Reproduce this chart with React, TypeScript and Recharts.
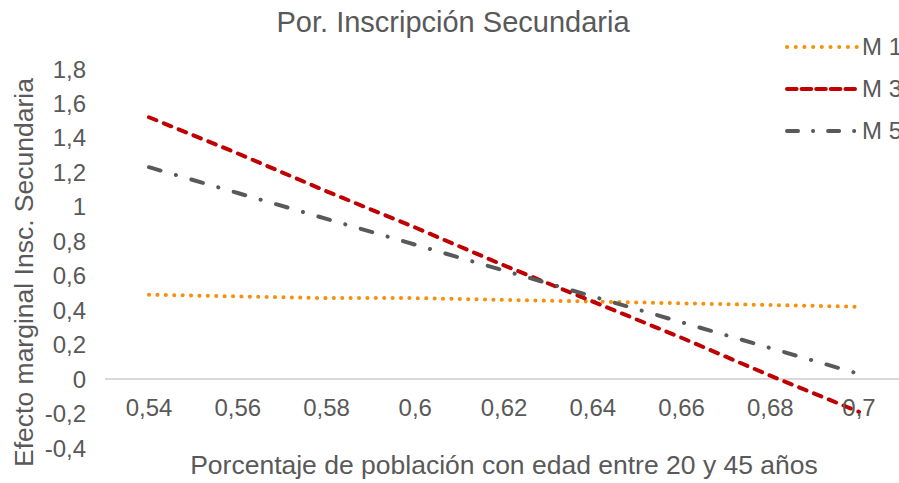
import { Label, Line, LineChart, ReferenceLine, XAxis, YAxis } from "recharts";

const categories = ["0,54", "0,56", "0,58", "0,6", "0,62", "0,64", "0,66", "0,68", "0,7"];
const m1 = [0.49, 0.48, 0.47, 0.47, 0.46, 0.45, 0.44, 0.43, 0.42];
const m3 = [1.52, 1.31, 1.09, 0.88, 0.66, 0.45, 0.24, 0.02, -0.19];
const m5 = [1.23, 1.08, 0.93, 0.78, 0.63, 0.48, 0.33, 0.18, 0.03];
const yTicks = [-0.4, -0.2, 0, 0.2, 0.4, 0.6, 0.8, 1, 1.2, 1.4, 1.6, 1.8];

const data = categories.map((x, i) => ({ x, m1: m1[i], m3: m3[i], m5: m5[i] }));

const FONT = "'Liberation Sans', Arial, sans-serif";
const TEXT = "#595959";

const series = [
  { key: "m1", name: "M 1", color: "#F7900A", dash: "0.1 8.3", width: 4 },
  { key: "m3", name: "M 3", color: "#C00000", dash: "8 8", width: 4 },
  { key: "m5", name: "M 5", color: "#595959", dash: "12 16 0.1 16", width: 4 },
];

const legendDash: Record<string, string> = {
  m1: "0.1 8.6",
  m3: "9.6 5",
  m5: "11 15 0.1 15",
};

function XTick({ x, y, payload }: any) {
  return (
    <text x={x} y={y} dy={-32.5} textAnchor="middle" fill={TEXT} fontSize={24} fontFamily={FONT}>
      {payload.value}
    </text>
  );
}

// legend sits outside the plot (it is clipped at the right edge like the original)
function LegendBox() {
  return (
    <div style={{ position: "absolute", top: 26, left: 785, width: 140, fontFamily: FONT }}>
      {series.map((s) => (
        <div key={s.key} style={{ display: "flex", alignItems: "center", height: 42 }}>
          <svg width={74} height={10} style={{ display: "block" }}>
            <line
              x1={2}
              y1={5}
              x2={72}
              y2={5}
              stroke={s.color}
              strokeWidth={4}
              strokeLinecap="round"
              strokeDasharray={legendDash[s.key]}
            />
          </svg>
          <span style={{ marginLeft: 3, fontSize: 24, color: TEXT, whiteSpace: "nowrap" }}>{s.name}</span>
        </div>
      ))}
    </div>
  );
}

export default function App() {
  return (
    <div
      style={{
        position: "fixed",
        left: 0,
        top: 0,
        width: 899,
        height: 483,
        overflow: "hidden",
        background: "#fff",
        fontFamily: FONT,
      }}
    >
      <div
        style={{
          position: "absolute",
          left: 0,
          top: 5,
          width: 906,
          textAlign: "center",
          fontSize: 29,
          lineHeight: "34px",
          color: TEXT,
        }}
      >
        Por. Inscripción Secundaria
      </div>
      <LineChart width={920} height={483} data={data} margin={{ top: 69, right: 17, bottom: 0, left: 10 }}>
        <XAxis
          dataKey="x"
          type="category"
          axisLine={false}
          tickLine={false}
          tickSize={0}
          tickMargin={0}
          height={35}
          interval={0}
          padding={{ left: 44, right: 44 }}
          tick={<XTick />}
        >
          <Label
            content={({ viewBox }: any) => (
              <text
                x={viewBox.x + viewBox.width / 2}
                y={viewBox.y + 26}
                textAnchor="middle"
                fill={TEXT}
                fontSize={26.5}
                fontFamily={FONT}
              >
                Porcentaje de población con edad entre 20 y 45 años
              </text>
            )}
          />
        </XAxis>
        <YAxis
          type="number"
          domain={[-0.4, 1.8]}
          ticks={yTicks}
          interval={0}
          width={95}
          axisLine={false}
          tickLine={false}
          tickSize={0}
          tickMargin={19}
          tick={{ fill: TEXT, fontSize: 24, fontFamily: FONT }}
          tickFormatter={(v: number) => String(Math.round(v * 10) / 10).replace(".", ",")}
        >
          <Label
            content={({ viewBox }: any) => {
              const cx = viewBox.x + 23;
              const cy = viewBox.y + viewBox.height / 2 + 14;
              return (
                <text
                  x={cx}
                  y={cy}
                  transform={`rotate(-90, ${cx}, ${cy})`}
                  textAnchor="middle"
                  fill={TEXT}
                  fontSize={26.5}
                  fontFamily={FONT}
                >
                  Efecto marginal Insc. Secundaria
                </text>
              );
            }}
          />
        </YAxis>
        <ReferenceLine y={0} stroke="#D9D9D9" strokeWidth={2} />
        {series.map((s) => (
          <Line
            key={s.key}
            type="linear"
            dataKey={s.key}
            name={s.name}
            stroke={s.color}
            strokeWidth={s.width}
            strokeDasharray={s.dash}
            strokeLinecap="round"
            dot={false}
            activeDot={false}
            isAnimationActive={false}
          />
        ))}
      </LineChart>
      <LegendBox />
    </div>
  );
}
